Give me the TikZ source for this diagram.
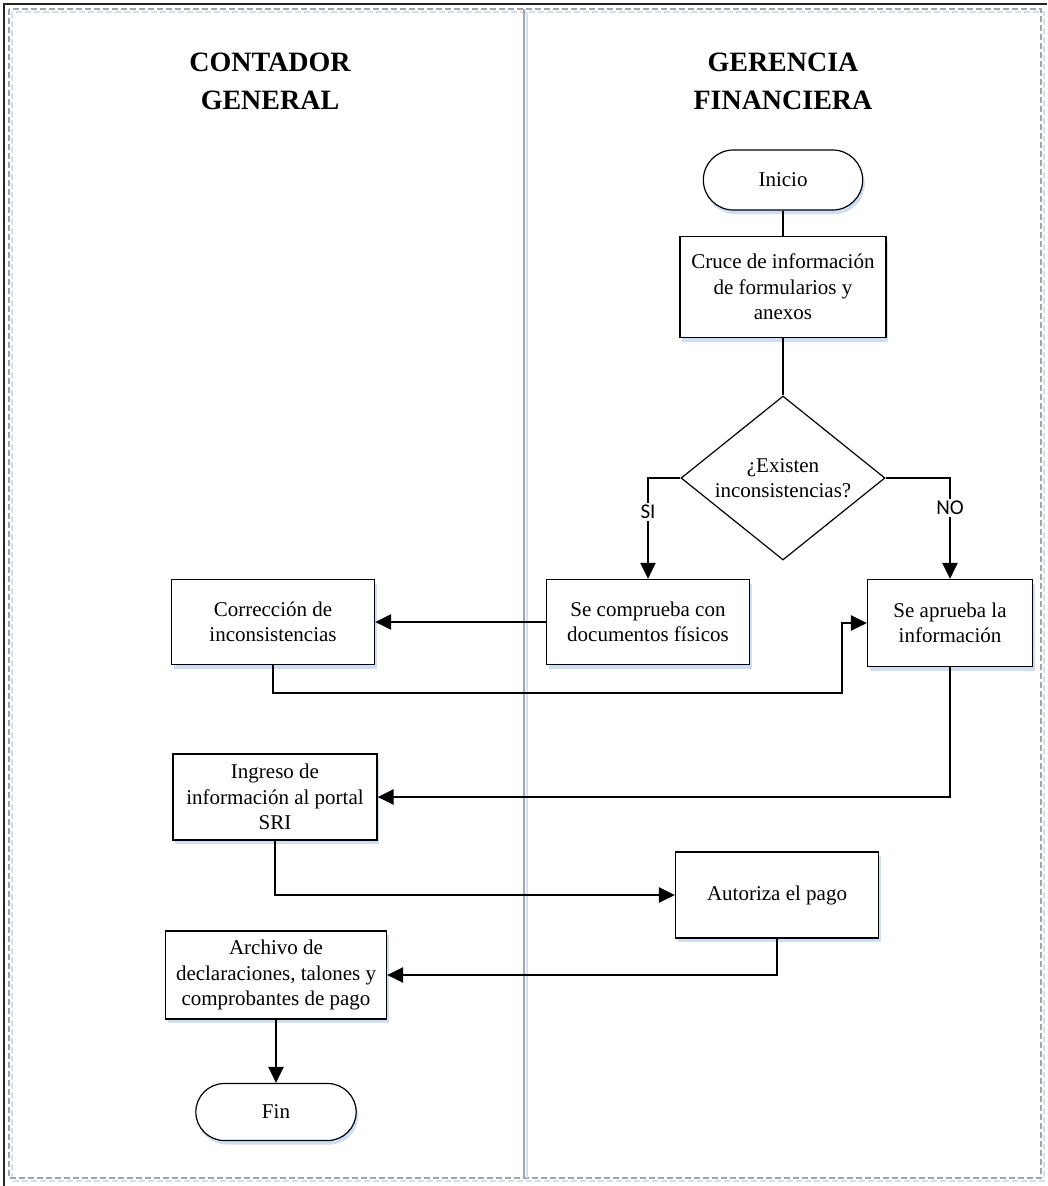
\documentclass[tikz,border=0pt]{standalone}
\usepackage{fontspec}
\setmainfont{Liberation Serif}
\newfontfamily\labelfont{Carlito}
\usetikzlibrary{shapes.geometric,shapes.misc,arrows.meta,shadows}

\definecolor{shadowblue}{RGB}{206,222,243}
\definecolor{framegray}{RGB}{165,165,165}

\begin{document}
\begin{tikzpicture}[x=1pt,y=-1pt,
  boxshadow/.style={drop shadow={shadow xshift=2pt,shadow yshift=-4pt,fill=shadowblue,opacity=1}},
  proc/.style={draw,line width=1.2pt,fill=white,align=center,inner sep=2pt,
    font=\fontsize{21}{25.5}\selectfont,boxshadow},
  term/.style={draw,line width=1.2pt,fill=white,rounded rectangle,align=center,
    font=\fontsize{21}{25.5}\selectfont,boxshadow},
  decision/.style={draw,line width=1.2pt,fill=white,diamond,aspect=1.24,inner sep=0pt,
    align=center,font=\fontsize{21}{25.5}\selectfont},
  head/.style={align=center,font=\fontsize{28}{38}\selectfont\bfseries},
  lbl/.style={fill=white,inner sep=2pt,font=\labelfont\fontsize{21}{23}\selectfont},
  conn/.style={line width=2.5pt,-{Triangle[length=16pt,width=15pt]}},
  thinconn/.style={line width=1.5pt}
]
\useasboundingbox (0,0) rectangle (1047,1186);

% page frame and lane divider
\draw[line width=2pt,black!85] (1047,4) -- (4,4) -- (4,1186);
\draw[shadowblue,line width=1.5pt,dash pattern=on 6pt off 3pt] (12,12) rectangle (1044,1181);
\draw[framegray,line width=1.5pt,dash pattern=on 6pt off 3pt] (9,9) rectangle (1041,1178);
\draw[shadowblue,line width=1.5pt] (527,12) -- (527,1178);
\draw[framegray,line width=2pt] (524,9) -- (524,1178);

% lane headings
\node[head] (hcont) at (270,81) {CONTADOR\\GENERAL};
\node[head] (hger) at (783,81) {GERENCIA\\FINANCIERA};

% steps
\node[term,minimum width=166,minimum height=60] (inicio) at (783,180) {Inicio};
\node[proc,minimum width=206,minimum height=101] (cruce) at (783,287)
  {Cruce de información\\de formularios y\\anexos};
\node[decision,minimum width=204,minimum height=164] (dec) at (783,478)
  {¿Existen\\inconsistencias?};
\node[proc,minimum width=203,minimum height=85] (comp) at (648,622)
  {Se comprueba con\\documentos físicos};
\node[proc,minimum width=203,minimum height=85] (corr) at (273,622)
  {Corrección de\\inconsistencias};
\node[proc,minimum width=165,minimum height=87] (aprueba) at (950,623)
  {Se aprueba la\\información};
\node[proc,minimum width=204,minimum height=86] (ingreso) at (275,797)
  {Ingreso de\\información al portal\\SRI};
\node[proc,minimum width=203,minimum height=86] (autoriza) at (777,895)
  {Autoriza el pago};
\node[proc,minimum width=221,minimum height=88] (archivo) at (276,975)
  {Archivo de\\declaraciones, talones y\\comprobantes de pago};
\node[term,minimum width=167,minimum height=57] (fin) at (276,1112) {Fin};

% connectors
\draw[thinconn] (inicio.south) -- (cruce.north);
\draw[thinconn] (cruce.south) -- (dec.north);
\draw[conn] (dec.west) -| (comp.north);
\draw[conn] (dec.east) -| (aprueba.north);
\node[lbl] (si) at (648,512) {SI};
\node[lbl] (no) at (950,508) {NO};
\draw[conn] (comp.west) -- (corr.east);
\coordinate (bend) at (842,693);
\draw[conn] (corr.south) |- (bend) |- (aprueba.west);
\draw[conn] (aprueba.south) |- (ingreso.east);
\draw[conn] (ingreso.south) |- (autoriza.west);
\draw[conn] (autoriza.south) |- (archivo.east);
\draw[conn] (archivo.south) -- (fin.north);
\end{tikzpicture}
\end{document}
